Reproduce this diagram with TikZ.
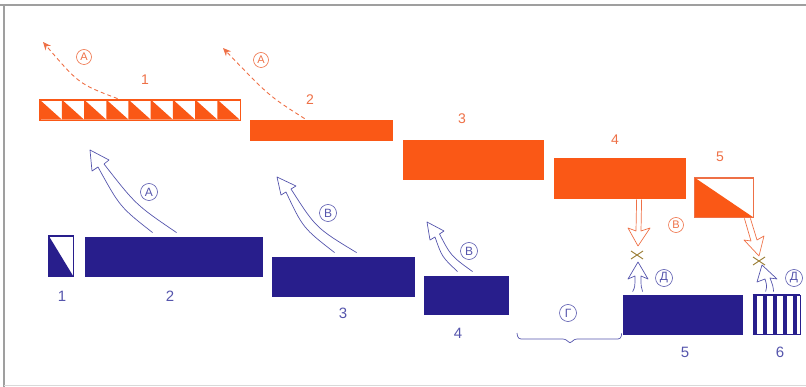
\documentclass[tikz,border=0pt]{standalone}
\usepackage{fontspec}
\setmainfont{Liberation Sans}
\usetikzlibrary{arrows.meta,calc}
\definecolor{org}{RGB}{250,88,22}
\definecolor{orgl}{RGB}{238,112,70}
\definecolor{nvy}{RGB}{40,30,140}
\definecolor{nvyl}{RGB}{85,85,172}
\definecolor{olv}{RGB}{150,120,45}
\tikzset{
  sz/.style 2 args={minimum width=#1, minimum height=#2},
  obox/.style={draw=org, fill=org, line width=0.8pt, inner sep=0pt, rectangle},
  bbox/.style={draw=nvy, fill=nvy, line width=0.8pt, inner sep=0pt, rectangle},
  olab/.style={text=orgl, font=\fontsize{14}{14}\selectfont, inner sep=1pt},
  blab/.style={text=nvyl, font=\fontsize{15}{15}\selectfont, inner sep=1pt},
  ocirc/.style={circle, draw=orgl, text=orgl, line width=0.6pt, inner sep=0pt, minimum size=15pt, font=\fontsize{11}{11}\selectfont},
  bcirc/.style={circle, draw=nvyl, text=nvyl, line width=0.6pt, inner sep=0pt, minimum size=17pt, font=\fontsize{12}{12}\selectfont},
  dasharrow/.style={draw=orgl, line width=0.9pt, dash pattern=on 4pt off 3pt, -{Stealth[length=8pt,width=7pt,fill=orgl]}},
  harrow/.style={draw=nvyl, line width=0.7pt, line join=round},
  oharrow/.style={draw=orgl, line width=0.7pt, line join=round},
  xmark/.style={draw=olv, line width=0.9pt}
}
\begin{document}
\begin{tikzpicture}[x=1pt,y=-1pt]
\useasboundingbox (0,0) rectangle (806,387);
% frame
\draw[gray!75, line width=1.3pt] (0,5) -- (806,5);
\draw[gray!75, line width=1.3pt] (4,5) -- (4,387);
\draw[gray!30, line width=1pt] (4,385) -- (806,385);

% orange bars
\node[obox, fill=white, sz={200pt}{20pt}] (o1) at (140,110) {};
\foreach \i in {0,...,8}
  \fill[org] ($(o1.north west)+(\i*22.222,0)$) -- ++(0,20) -- ++(22.222,0) -- cycle;
\draw[org, line width=0.8pt] (o1.north west) rectangle (o1.south east);
\node[obox, sz={142pt}{20pt}] (o2) at (321,130) {};
\node[obox, sz={140pt}{39pt}] (o3) at (473,159.5) {};
\node[obox, sz={131pt}{40pt}] (o4) at (619.5,178) {};
\node[obox, fill=white, draw=orgl, sz={58pt}{39pt}] (o5) at (724,197.5) {};
\fill[org] (o5.north west) -- (o5.south west) -- (o5.south east) -- cycle;
\draw[orgl, line width=0.8pt] (o5.north west) rectangle (o5.south east);

% orange labels
\node[olab] (lo1) at (145,80) {1};
\node[olab] (lo2) at (310,100) {2};
\node[olab] (lo3) at (462,119) {3};
\node[olab] (lo4) at (615,140) {4};
\node[olab] (lo5) at (720,157) {5};

% blue bars
\node[bbox, fill=white, sz={24pt}{40pt}] (b1) at (61,256) {};
\fill[nvy] (b1.north west) -- (b1.south west) -- (b1.south east) -- cycle;
\draw[nvy, line width=0.8pt] (b1.north west) rectangle (b1.south east);
\node[bbox, sz={177pt}{39pt}] (b2) at (173.5,256.5) {};
\node[bbox, sz={142pt}{39pt}] (b3) at (343,276.5) {};
\node[bbox, sz={84pt}{38pt}] (b4) at (466,295) {};
\node[bbox, sz={119pt}{39pt}] (b5) at (682.5,314.5) {};
\node[bbox, fill=white, sz={47pt}{39pt}] (b6) at (776.5,314.5) {};
\foreach \i in {0,...,4}
  \fill[nvy] ($(b6.north west)+(\i*10,0)$) rectangle ++(4,39);
\draw[nvy, line width=0.8pt] (b6.north west) -- (b6.north east);
\draw[nvy, line width=0.8pt] (b6.south west) -- (b6.south east);

% blue labels
\node[blab] (lb1) at (62,296) {1};
\node[blab] (lb2) at (170,296) {2};
\node[blab] (lb3) at (343,313) {3};
\node[blab] (lb4) at (458,333) {4};
\node[blab] (lb5) at (685,352) {5};
\node[blab] (lb6) at (780,352) {6};

% dashed orange arrows
\coordinate (d1s) at ($(o1.north west)+(78,-1)$);
\coordinate (d1e) at (43,42);
\draw[dasharrow] (d1s) .. controls (79,84) .. (d1e);
\coordinate (d2s) at ($(o2.north west)+(55,-1)$);
\coordinate (d2e) at (223,48);
\draw[dasharrow] (d2s) .. controls (269,96) .. (d2e);
\node[ocirc] (cA1) at (84,57) {А};
\node[ocirc] (cA2) at (261,60) {А};

% hollow blue arrows
\coordinate (a1L) at ($(b2.north west)+(68,-4)$);
\coordinate (a1R) at ($(b2.north west)+(92,-4)$);
\coordinate (a1T) at (90,150);
\draw[harrow] (a1L) .. controls (120,207) .. (98,167) -- (92,171) -- (a1T) -- (109,160) -- (104,164) .. controls (136,205) .. (a1R);
\node[bcirc] (cA3) at (149,192) {А};

\coordinate (a2L) at ($(b3.north west)+(63,-4)$);
\coordinate (a2R) at ($(b3.north west)+(85,-4)$);
\coordinate (a2T) at (277,177);
\draw[harrow] (a2L) .. controls (303,228) .. (286,192) -- (281,195) -- (a2T) -- (296,186) -- (291,189) .. controls (316,228) .. (a2R);
\node[bcirc] (cB1) at (328,213) {В};

\coordinate (a3L) at ($(b4.north west)+(34,-4)$);
\coordinate (a3R) at ($(b4.north west)+(49,-4)$);
\coordinate (a3T) at (427,222);
\draw[harrow] (a3L) .. controls (442,257) .. (435,237) -- (430,240) -- (a3T) -- (444,231) -- (439.5,234) .. controls (451,256) .. (a3R);
\node[bcirc] (cB2) at (469,251) {В};

% short arrows at 5
\coordinate (s5L) at ($(b5.north west)+(10,-3)$);
\coordinate (s5R) at ($(b5.north west)+(20,-3)$);
\coordinate (s5T) at (638,262);
\draw[harrow] (s5L) .. controls (635,287) .. (635,276) -- (628,279) -- (s5T) -- (648,279) -- (641,276) .. controls (641,287) .. (s5R);
\node[bcirc] (cD1) at (664,278) {Д};
\coordinate (o4L) at ($(o4.south west)+(83,1)$);
\coordinate (o4R) at ($(o4.south west)+(88,1)$);
\coordinate (o4T) at (638,246);
\draw[oharrow] (o4L) -- (636,231) -- (628,228) -- (o4T) -- (650,228) -- (641,231) -- (o4R);
\node[ocirc] (cB3) at (676,225) {В};
\coordinate (x1) at (637,255);
\draw[xmark] ($(x1)+(-6,-4)$) -- ($(x1)+(6,4)$) ($(x1)+(-6,4)$) -- ($(x1)+(6,-4)$);

% short arrows at 6
\coordinate (s6L) at ($(b6.north west)+(13,-3)$);
\coordinate (s6R) at ($(b6.north west)+(21,-3)$);
\coordinate (s6T) at (762,265);
\draw[harrow] (s6L) .. controls (767,286) .. (765,279) -- (757,282) -- (s6T) -- (777,279) -- (770,278) .. controls (773,286) .. (s6R);
\node[bcirc] (cD2) at (794,278) {Д};
\coordinate (o5L) at ($(o5.south east)+(-9,1)$);
\coordinate (o5R) at ($(o5.south east)+(-3,1)$);
\coordinate (o5T) at (759,256);
\draw[oharrow] (o5L) -- (751,241) -- (744,240) -- (o5T) -- (764,236) -- (757,240) -- (o5R);
\coordinate (x2) at (759,261);
\draw[xmark] ($(x2)+(-6,-4)$) -- ($(x2)+(6,4)$) ($(x2)+(-6,4)$) -- ($(x2)+(6,-4)$);

% brace
\coordinate (brL) at (517,333);
\coordinate (brR) at ($(b5.south west)+(-1,-1)$);
\draw[nvyl, line width=0.7pt, rounded corners=3pt] (brL) -- (518,339) -- (566,339) -- (570,344) -- (574,339) -- (621,339) -- (brR);
\node[bcirc] (cG) at (568,313) {Г};
\end{tikzpicture}
\end{document}
